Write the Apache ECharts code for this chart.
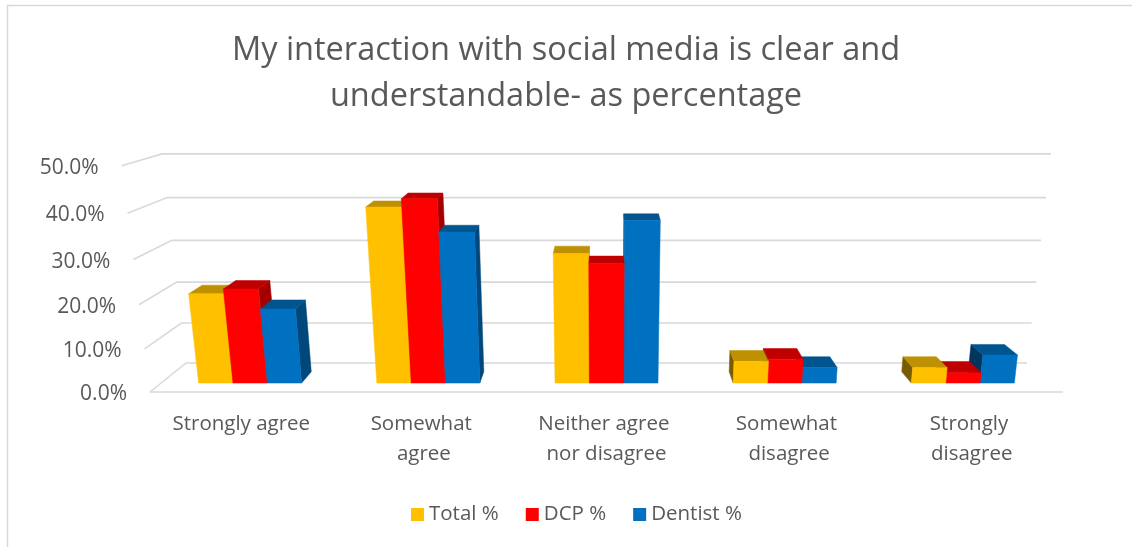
<!DOCTYPE html>
<html>
<head>
<meta charset="utf-8">
<script src="https://cdn.jsdelivr.net/npm/echarts@6/dist/echarts.min.js"></script>
<style>
  html, body { margin: 0; padding: 0; background: #ffffff; }
  #chart { width: 1132px; height: 547px; }
</style>
</head>
<body>
<div id="chart"></div>
<script>
// Survey answers, percentage of respondents
const categories = ['Strongly agree', 'Somewhat agree', 'Neither agree nor disagree', 'Somewhat disagree', 'Strongly disagree'];
const totalPct   = [20.9, 40.3, 30.0, 5.2, 3.7];
const dcpPct     = [22.0, 42.1, 27.7, 5.7, 2.5];
const dentistPct = [17.4, 34.8, 37.4, 3.7, 6.7];
const yTicks     = [0, 10, 20, 30, 40, 50];
const seriesNames = ['Total %', 'DCP %', 'Dentist %'];
const seriesValues = [totalPct, dcpPct, dentistPct];
const seriesColors = ['#FFC000', '#FF0000', '#0070C0'];

const FONT = '"Open Sans", "Noto Sans", sans-serif';
const TEXT = '#595959';
const GRID_LINE = '#d9d9d9';

// Perspective view of the plot box: w is the relative camera distance
// for a point at height Y (0..1) and depth Z (0 front .. 1 back wall).
const HEIGHT_PERSP = -0.0586;
const DEPTH_PERSP = 0.0856;
const DEPTH_RISE = 2.07;
const BAR_Z0 = 0.29, BAR_Z1 = 0.68;
const GROUP_FRACTION = 0.578;

function makeProjector(cs) {
  const cx = cs.x + cs.width / 2;
  const halfW = cs.width / 2;
  const base = cs.y + cs.height;
  const H = cs.height;
  return function (xn, Y, Z) {
    const w = 1 + HEIGHT_PERSP * Y + DEPTH_PERSP * Z;
    return [cx + xn * halfW / w, (base - H * Y + DEPTH_RISE * Z) / w];
  };
}

function shade(hex, f) {
  const n = parseInt(hex.slice(1), 16);
  const r = Math.round(((n >> 16) & 255) * f);
  const g = Math.round(((n >> 8) & 255) * f);
  const b = Math.round((n & 255) * f);
  return 'rgb(' + r + ',' + g + ',' + b + ')';
}

// Walls: left side and back wall gridlines plus the floor edge and tick labels
function renderWalls(params, api) {
  const cs = params.coordSys;
  const proj = makeProjector(cs);
  const v = api.value(1);
  const Y = (cs.y + cs.height - api.coord([0, v])[1]) / cs.height;
  const a = proj(-1, Y, 0), b = proj(-1, Y, 1), c = proj(1, Y, 1);
  const children = [{
    type: 'polyline',
    shape: { points: [a, b, c] },
    style: { stroke: GRID_LINE, lineWidth: 1.6, fill: null }
  }];
  if (v === 0) {
    children.push({
      type: 'line',
      shape: { x1: a[0], y1: a[1], x2: proj(1, 0, 0)[0], y2: proj(1, 0, 0)[1] },
      style: { stroke: GRID_LINE, lineWidth: 1.6 }
    });
  }
  children.push({
    type: 'text',
    x: a[0] - 23,
    y: a[1] + 2,
    style: {
      text: v.toFixed(1) + '%',
      fill: TEXT,
      font: '21px ' + FONT,
      align: 'right',
      verticalAlign: 'middle'
    }
  });
  return { type: 'group', children: children };
}

function makeBarRenderer(sIdx) {
  const color = seriesColors[sIdx];
  return function (params, api) {
    const cs = params.coordSys;
    const proj = makeProjector(cs);
    const cx = cs.x + cs.width / 2;
    const halfW = cs.width / 2;
    const cat = api.value(0);
    const top = api.coord([cat, api.value(1)]);
    const band = api.size([1, 0])[0];
    const barW = band * GROUP_FRACTION / 3;
    const x0 = top[0] - 1.5 * barW + sIdx * barW;
    const x1 = x0 + barW;
    const n0 = (x0 - cx) / halfW, n1 = (x1 - cx) / halfW;
    const Y = (cs.y + cs.height - top[1]) / cs.height;
    const dist = Math.abs((x0 + x1) / 2 - cx);
    const zBase = 2000 - Math.round(dist) * 4;
    const children = [];
    if (x1 < cx) {
      children.push({
        type: 'polygon', z2: zBase,
        shape: { points: [proj(n1, 0, BAR_Z0), proj(n1, 0, BAR_Z1), proj(n1, Y, BAR_Z1), proj(n1, Y, BAR_Z0)] },
        style: { fill: shade(color, 0.64), stroke: shade(color, 0.64), lineWidth: 0.5 }
      });
    } else if (x0 > cx) {
      children.push({
        type: 'polygon', z2: zBase,
        shape: { points: [proj(n0, 0, BAR_Z0), proj(n0, 0, BAR_Z1), proj(n0, Y, BAR_Z1), proj(n0, Y, BAR_Z0)] },
        style: { fill: shade(color, 0.48), stroke: shade(color, 0.48), lineWidth: 0.5 }
      });
    }
    children.push({
      type: 'polygon', z2: zBase + 1,
      shape: { points: [proj(n0, Y, BAR_Z0), proj(n1, Y, BAR_Z0), proj(n1, Y, BAR_Z1), proj(n0, Y, BAR_Z1)] },
      style: { fill: shade(color, 0.75), stroke: shade(color, 0.75), lineWidth: 0.5 }
    });
    children.push({
      type: 'polygon', z2: zBase + 2,
      shape: { points: [proj(n0, 0, BAR_Z0), proj(n1, 0, BAR_Z0), proj(n1, Y, BAR_Z0), proj(n0, Y, BAR_Z0)] },
      style: { fill: color, stroke: color, lineWidth: 0.5 }
    });
    return { type: 'group', children: children };
  };
}

const barSeries = seriesNames.map(function (name, i) {
  return {
    name: name,
    type: 'custom',
    z: 3,
    clip: false,
    itemStyle: { color: seriesColors[i] },
    encode: { x: 0, y: 1 },
    data: seriesValues[i].map(function (v, k) { return [k, v]; }),
    renderItem: makeBarRenderer(i)
  };
});

const chart = echarts.init(document.getElementById('chart'), null, { renderer: 'canvas' });
chart.setOption({
  backgroundColor: '#ffffff',
  animation: false,
  title: {
    text: 'My interaction with social media is clear and\nunderstandable- as percentage',
    left: 'center',
    top: 28,
    padding: [0, 0, 0, 10],
    textStyle: { fontFamily: FONT, fontSize: 32.5, fontWeight: 'normal', color: TEXT, lineHeight: 46 }
  },
  legend: {
    left: 406,
    top: 499,
    icon: 'rect',
    itemWidth: 13,
    itemHeight: 13,
    itemGap: 27,
    data: seriesNames,
    textStyle: { fontFamily: FONT, fontSize: 20.5, color: TEXT }
  },
  grid: { left: 150, right: 69, top: 156, bottom: 155 },
  xAxis: {
    type: 'category',
    data: categories,
    axisLine: { show: false },
    axisTick: { show: false },
    axisLabel: {
      interval: 0,
      margin: 17,
      color: TEXT,
      fontFamily: FONT,
      fontSize: 20.5,
      lineHeight: 30,
      width: 150,
      overflow: 'break'
    }
  },
  yAxis: {
    type: 'value',
    min: 0,
    max: 50,
    interval: 10,
    show: false,
    splitLine: { show: false }
  },
  graphic: [{
    type: 'rect',
    shape: { x: 7.5, y: 5.5, width: 1300, height: 700 },
    style: { fill: null, stroke: GRID_LINE, lineWidth: 1.5 },
    silent: true
  }],
  series: [{
    name: 'walls',
    type: 'custom',
    z: 1,
    clip: false,
    silent: true,
    encode: { x: 0, y: 1 },
    data: yTicks.map(function (v) { return [0, v]; }),
    renderItem: renderWalls
  }].concat(barSeries)
});
</script>
</body>
</html>
